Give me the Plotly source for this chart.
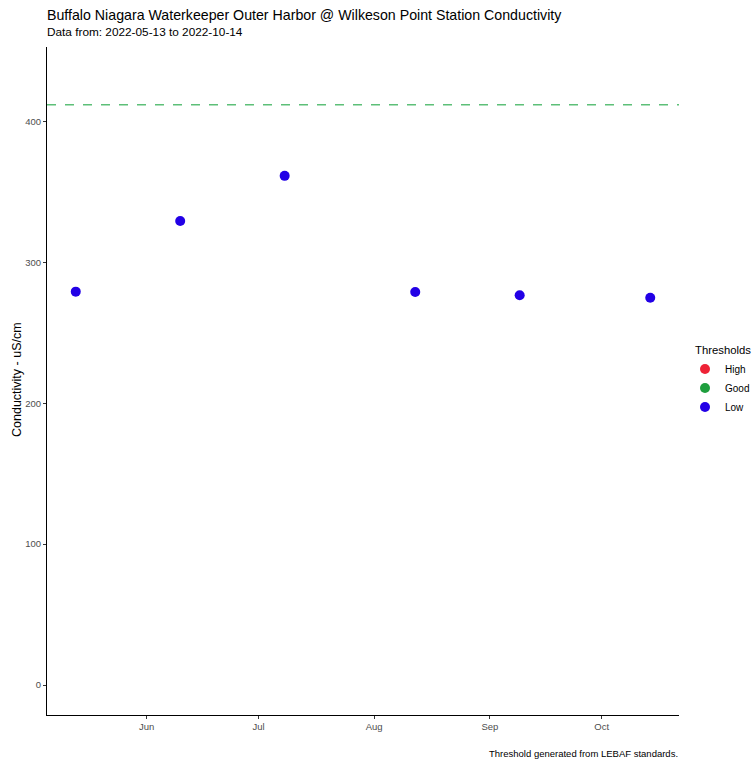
import plotly.graph_objects as go

dates = ["2022-05-13", "2022-06-10", "2022-07-08", "2022-08-12", "2022-09-09", "2022-10-14"]
conductivity = [279.3, 329.5, 361.5, 279.0, 276.7, 275.0]
categories = ["Low", "Low", "Low", "Low", "Low", "Low"]
threshold_levels = ["High", "Good", "Low"]
threshold_colors = {"High": "#EE2236", "Good": "#1E9E3E", "Low": "#2200E6"}
upper_threshold = 412
month_ticks = ["2022-06-01", "2022-07-01", "2022-08-01", "2022-09-01", "2022-10-01"]
month_labels = ["Jun", "Jul", "Aug", "Sep", "Oct"]
y_ticks = [0, 100, 200, 300, 400]

fig = go.Figure()
for lvl in threshold_levels:
    xs = [d for d, c in zip(dates, categories) if c == lvl]
    ys = [v for v, c in zip(conductivity, categories) if c == lvl]
    if not xs:
        xs, ys = [None], [None]
    fig.add_trace(go.Scatter(
        x=xs, y=ys, mode="markers", name=lvl,
        marker=dict(color=threshold_colors[lvl], size=10, line=dict(width=0)),
    ))

fig.add_hline(y=upper_threshold, line=dict(color="#5DBF78", width=1.3, dash="dash"))

font_family = "Liberation Sans, Arial, sans-serif"
W, H = 752, 759
L, R, T, B = 47, 73, 47, 44
PH = H - T - B
PW = W - L - R


def py(y_px):
    return (H - B - y_px) / PH


def px(x_px):
    return (x_px - L) / PW


fig.update_layout(
    width=W, height=H,
    margin=dict(l=L, r=R, t=T, b=B, autoexpand=False),
    plot_bgcolor="white", paper_bgcolor="white",
    font=dict(family=font_family, color="black"),
    xaxis=dict(
        type="date",
        range=["2022-05-05 07:00", "2022-10-21 17:00"],
        tickvals=month_ticks, ticktext=month_labels,
        showline=True, linecolor="black", linewidth=1.1, mirror=False,
        ticks="outside", ticklen=3, tickcolor="#333333", tickwidth=1,
        tickfont=dict(size=9.5, color="#4D4D4D"),
        showgrid=False, zeroline=False, automargin=False,
    ),
    yaxis=dict(
        range=[-21.3, 453],
        tickvals=y_ticks,
        showline=True, linecolor="black", linewidth=1.1,
        ticks="outside", ticklen=3, tickcolor="#333333", tickwidth=1,
        tickfont=dict(size=9.5, color="#4D4D4D"),
        showgrid=False, zeroline=False, automargin=False,
    ),
    showlegend=True,
    legend=dict(
        x=px(685), xanchor="left", y=py(388), yanchor="middle",
        font=dict(size=10), bgcolor="rgba(0,0,0,0)",
        itemwidth=30,
    ),
    annotations=[
        dict(text="Buffalo Niagara Waterkeeper Outer Harbor @ Wilkeson Point Station Conductivity",
             xref="paper", yref="paper", x=px(45), y=py(15), xanchor="left", yanchor="middle",
             showarrow=False, font=dict(size=14.2, color="black")),
        dict(text="Data from: 2022-05-13 to 2022-10-14",
             xref="paper", yref="paper", x=px(45), y=py(32), xanchor="left", yanchor="middle",
             showarrow=False, font=dict(size=11.8, color="black")),
        dict(text="Conductivity - uS/cm", textangle=-90,
             xref="paper", yref="paper", x=px(17), y=py(380), xanchor="center", yanchor="middle",
             showarrow=False, font=dict(size=12.5, color="black")),
        dict(text="Thresholds",
             xref="paper", yref="paper", x=px(693), y=py(350), xanchor="left", yanchor="middle",
             showarrow=False, font=dict(size=11.3, color="black")),
        dict(text="Threshold generated from LEBAF standards.",
             xref="paper", yref="paper", x=px(680), y=py(753), xanchor="right", yanchor="middle",
             showarrow=False, font=dict(size=9.5, color="black")),
    ],
)

fig.write_html("out.html", config={"displayModeBar": False},
               post_script="document.body.style.margin='0px';")
